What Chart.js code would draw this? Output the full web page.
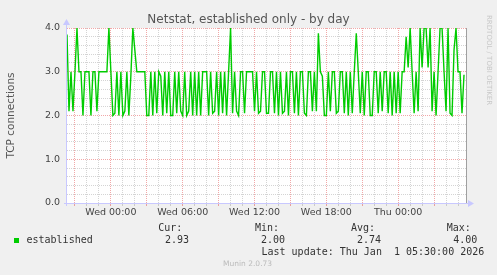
<!DOCTYPE html>
<html><head><meta charset="utf-8">
<script src="https://cdn.jsdelivr.net/npm/chart.js@4/dist/chart.umd.min.js"></script>
<style>
html,body{margin:0;padding:0;background:#f0f0f0;}
#wrap{position:relative;width:497px;height:275px;overflow:hidden;background:#f0f0f0;}
canvas{position:absolute;left:0;top:0;}
.t{position:absolute;white-space:pre;line-height:1;}
.mono{font-family:"DejaVu Sans Mono",monospace;font-size:10px;color:#333;}
</style></head><body>
<div id="wrap">
<canvas id="c" width="497" height="275"></canvas>
<div class="t" style="left:0;width:497px;text-align:center;top:12.8px;font-family:'DejaVu Sans';font-size:12px;color:#555;">Netstat, established only - by day</div>
<div class="t" style="left:485px;top:15px;writing-mode:vertical-rl;font-family:'DejaVu Sans';font-size:7px;color:#c8c8c8;">RRDTOOL / TOBI OETIKER</div>
<div style="position:absolute;left:14px;top:238px;width:5px;height:5px;background:#00cc00;"></div>
<div class="t mono" style="left:26.5px;top:235px;" id="sname"></div>
<div class="t mono" style="left:158.3px;top:222.6px;">Cur:</div>
<div class="t mono" style="left:255px;top:222.6px;">Min:</div>
<div class="t mono" style="left:351px;top:222.6px;">Avg:</div>
<div class="t mono" style="left:446.7px;top:222.6px;">Max:</div>
<div class="t mono" style="left:165px;top:235px;" id="vcur"></div>
<div class="t mono" style="left:261px;top:235px;" id="vmin"></div>
<div class="t mono" style="left:357px;top:235px;" id="vavg"></div>
<div class="t mono" style="left:453.3px;top:235px;" id="vmax"></div>
<div class="t mono" style="left:261.5px;top:246.6px;">Last update: Thu Jan  1 05:30:00 2026</div>
<div class="t" style="left:223px;top:260px;font-family:'DejaVu Sans';font-size:7.5px;color:#bbb;">Munin 2.0.73</div>
</div>
<script>
// ---- data ----
const seriesName = 'established';
const startHour = -3 - 40/60;   // Tue 20:20, hours relative to Wed 00:00
const stepHours = 10/60;        // 10-minute samples
const endHour = startHour + 2000/60;
const values = [
3.85,2.1,3.0,2.1,3.0,4.0,3.0,3.0,2.0,3.0,
3.0,3.0,2.0,3.0,3.0,2.1,3.0,3.0,3.0,3.0,
3.0,4.0,3.0,2.0,2.05,3.0,2.0,3.0,2.0,2.1,
3.0,2.0,2.9,4.0,3.5,3.0,3.0,3.0,3.0,3.0,
2.0,2.0,3.0,2.0,3.0,2.05,3.0,2.9,2.0,3.0,
2.05,3.0,2.0,2.0,3.0,2.05,3.0,2.1,2.0,3.0,
2.0,2.1,3.0,2.0,3.0,2.0,3.0,2.0,3.0,3.0,
3.0,2.0,3.0,2.05,2.1,3.0,2.0,3.0,2.05,3.0,
2.0,3.0,4.0,2.05,3.0,2.1,2.0,3.0,3.0,2.05,
3.0,3.0,3.0,3.0,2.1,3.0,2.05,2.1,3.0,3.0,
2.05,2.05,3.0,3.0,2.05,3.0,2.0,3.0,2.05,2.1,
3.0,2.0,3.0,3.0,2.05,3.0,2.0,3.0,3.0,2.05,
2.0,3.0,3.0,2.1,3.0,2.1,3.88,3.0,2.9,2.0,
2.0,3.0,2.1,3.0,3.0,2.05,2.1,3.0,3.0,2.05,
3.0,2.0,3.0,2.05,3.0,3.88,3.0,2.05,3.0,2.0,
3.0,3.0,2.0,2.0,3.0,3.0,2.05,3.0,2.1,3.0,
3.0,2.05,3.0,2.0,3.0,2.05,3.0,2.05,3.0,3.0,
3.8,3.1,4.0,3.0,2.05,3.0,2.1,4.0,3.1,4.0,
4.0,3.1,4.0,2.1,3.0,2.0,3.0,4.0,4.0,3.0,
2.1,4.0,2.05,2.0,3.5,4.0,3.0,3.0,2.05,2.93
];
const statCur = '2.93', statMin = '2.00', statAvg = '2.74', statMax = '4.00';
const tickHours = [0, 6, 12, 18, 24];
const tickLabels = ['Wed 00:00', 'Wed 06:00', 'Wed 12:00', 'Wed 18:00', 'Thu 00:00'];
const yMin = 0, yMax = 4;

document.getElementById('sname').textContent = seriesName;
document.getElementById('vcur').textContent = statCur;
document.getElementById('vmin').textContent = statMin;
document.getElementById('vavg').textContent = statAvg;
document.getElementById('vmax').textContent = statMax;

const pts = values.map((v, i) => ({x: startHour + i * stepHours, y: v}));

const isInt = v => Math.abs(v - Math.round(v)) < 1e-6;
const MAJ = 'rgba(222,48,48,0.42)';
const MIN = 'rgba(120,120,120,0.32)';

const decor = {
  id: 'decor',
  beforeDraw(chart) {
    const {ctx, chartArea: a} = chart;
    ctx.save();
    ctx.fillStyle = '#ffffff';
    ctx.fillRect(a.left, a.top, a.right - a.left, a.bottom - a.top);
    ctx.restore();
  },
  afterDraw(chart) {
    const {ctx, chartArea: a} = chart;
    ctx.save();
    ctx.strokeStyle = '#a0a0a0';
    ctx.lineWidth = 1;
    ctx.beginPath();
    ctx.moveTo(a.right + 0.5, a.top);
    ctx.lineTo(a.right + 0.5, a.bottom);
    ctx.stroke();
    ctx.strokeStyle = '#c8c8ff';
    ctx.fillStyle = '#c8c8ff';
    ctx.beginPath();
    ctx.moveTo(a.left - 0.5, a.bottom + 3);
    ctx.lineTo(a.left - 0.5, a.top - 6);
    ctx.moveTo(a.left - 3, a.bottom + 0.5);
    ctx.lineTo(a.right + 3, a.bottom + 0.5);
    ctx.stroke();
    ctx.beginPath();
    ctx.moveTo(a.left - 4, a.top - 3);
    ctx.lineTo(a.left + 3, a.top - 3);
    ctx.lineTo(a.left - 0.5, a.top - 9);
    ctx.closePath();
    ctx.fill();
    ctx.beginPath();
    ctx.moveTo(a.right + 2, a.bottom - 3);
    ctx.lineTo(a.right + 2, a.bottom + 4);
    ctx.lineTo(a.right + 8, a.bottom + 0.5);
    ctx.closePath();
    ctx.fill();
    ctx.restore();
  }
};

new Chart(document.getElementById('c'), {
  type: 'line',
  data: {
    datasets: [{
      label: seriesName,
      data: pts,
      borderColor: '#00cc00',
      borderWidth: 1.4,
      pointRadius: 0,
      tension: 0,
      fill: false
    }]
  },
  options: {
    responsive: false,
    devicePixelRatio: 1,
    animation: false,
    events: [],
    layout: {padding: {top: 28, right: 31, left: 0, bottom: 0}},
    plugins: {legend: {display: false}, title: {display: false}, tooltip: {enabled: false}},
    scales: {
      x: {
        type: 'linear',
        min: startHour,
        max: endHour,
        afterFit(s) { s.height = 72; },
        ticks: {
          stepSize: 1,
          includeBounds: false,
          autoSkip: false,
          maxRotation: 0,
          padding: 1,
          color: '#444',
          font: {family: 'DejaVu Sans', size: 9.5},
          callback(v) {
            const k = tickHours.findIndex(h => Math.abs(h - v) < 1e-6);
            return k >= 0 ? tickLabels[k] : '';
          }
        },
        grid: {
          drawTicks: true,
          tickLength: 3,
          color(c) {
            const v = c.tick ? c.tick.value : NaN;
            if (!isInt(v)) return 'rgba(0,0,0,0)';
            return (Math.round(v) % 3 === 0) ? MAJ : MIN;
          }
        },
        border: {display: false, dash: [1, 1]}
      },
      y: {
        min: yMin,
        max: yMax,
        afterFit(s) { s.width = 67; },
        ticks: {
          stepSize: 0.2,
          autoSkip: false,
          padding: 7,
          color: '#444',
          font: {family: 'DejaVu Sans', size: 9.5},
          callback(v) { return isInt(v) ? Number(v).toFixed(1) : ''; }
        },
        grid: {
          drawTicks: false,
          color(c) {
            const v = c.tick ? c.tick.value : NaN;
            return isInt(v) ? MAJ : MIN;
          }
        },
        border: {display: false, dash: [1, 1]},
        title: {
          display: true,
          text: 'TCP connections',
          color: '#555',
          font: {family: 'DejaVu Sans', size: 10.5},
          padding: {top: 5, bottom: 0}
        }
      }
    }
  },
  plugins: [decor]
});
</script>
</body></html>
